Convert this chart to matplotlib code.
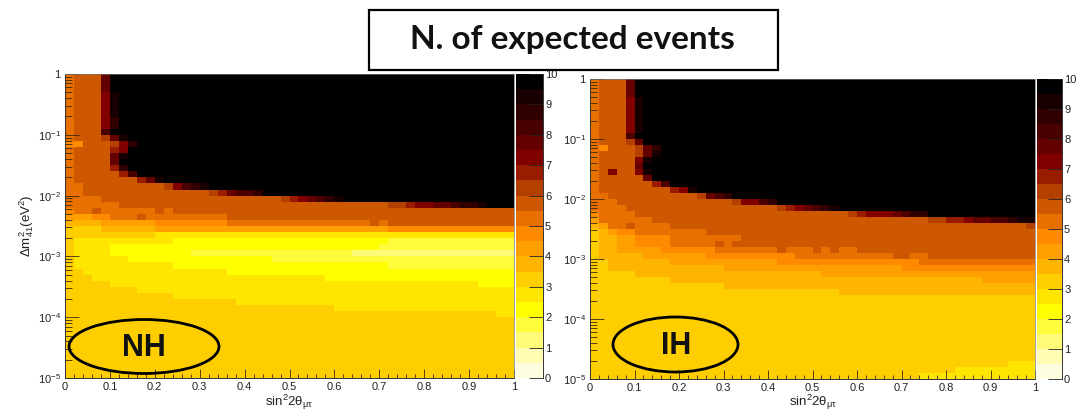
import numpy as np
import matplotlib
matplotlib.use("Agg")
import matplotlib.pyplot as plt
from matplotlib.colors import ListedColormap, BoundaryNorm
from matplotlib.patches import Ellipse, Rectangle
from matplotlib.ticker import FixedLocator, NullFormatter

plt.rcParams['font.family'] = ['Liberation Sans', 'DejaVu Sans']
plt.rcParams['mathtext.fontset'] = 'custom'
plt.rcParams['mathtext.rm'] = 'Liberation Sans'
plt.rcParams['mathtext.it'] = 'Liberation Sans:italic'
plt.rcParams['mathtext.default'] = 'regular'

W, H = 1091, 413

# palette of the color bar, one color per 0.5 events (bottom to top)
palette = ["#FFFDE0", "#FFFCB4", "#FFFB78", "#FFFC3C", "#FFFF00",
           "#FFE600", "#FFCE00", "#FFB400", "#FFA000", "#FF8A00",
           "#E87000", "#CE5800", "#B44000", "#9A1C00", "#800000",
           "#640000", "#480000", "#300000", "#180000", "#000000"]

# each row goes top to bottom, "col:level" = level starts at that column
nh_rows = [
    "0:10 1:11 4:15 5:19", "0:10 1:11 4:15 5:19", "0:10 1:11 4:15 5:19",
    "0:10 1:11 4:14 5:18 6:19", "0:10 1:11 4:14 5:18 6:19",
    "0:10 1:11 4:14 5:18 6:19", "0:10 1:11 4:14 5:18 6:19",
    "0:10 1:11 4:14 5:17 6:19", "0:10 1:11 4:14 5:17 6:19",
    "0:10 1:11 4:16 5:19",
    "0:10 1:11 4:12 5:15 6:18 7:19",
    "0:9 2:11 5:12 6:14 7:17 8:19",
    "0:10 1:11 5:13 6:14 7:19",
    "0:10 1:11 5:15 6:18 7:19",
    "0:10 1:11 5:15 6:19",
    "0:10 1:11 5:13 6:17 7:19",
    "0:10 1:11 5:11 6:13 7:16 8:19",
    "0:10 1:11 8:13 9:15 10:18 11:19",
    "0:10 2:11 11:12 12:14 13:16 14:17 15:18 16:19",
    "0:10 2:11 16:12 17:13 18:15 19:16 21:17 22:19",
    "0:10 4:11 24:12 25:13 26:14 27:15 28:16 29:17 30:18 31:19",
    "0:10 6:11 36:12 38:13 39:14 41:15 43:16 44:17 46:18 47:19",
    "0:9 1:10 3:11 4:10 10:11 11:10 12:11",
    "0:8 3:9 5:10 8:11 9:10 18:11",
    "0:7 4:8 10:9 18:10 34:11 35:10 36:11",
    "0:6 4:7 10:8 36:9",
    "0:6 10:5",
    "0:6 1:5 12:4 36:3",
    "0:6 1:5 5:4 35:3",
    "0:6 1:5 5:4 14:3 32:2",
    "0:6 1:5 7:4 23:3",
    "0:6 1:5 12:4 36:3",
    "0:6 2:5 18:4",
    "0:6 3:5 29:4",
    "0:6 5:5 46:4",
    "0:6 8:5",
    "0:6 12:5",
    "0:6 19:5",
    "0:6 30:5",
    "0:6 48:5",
    "0:6", "0:6", "0:6", "0:6", "0:6", "0:6", "0:6", "0:6", "0:6", "0:6",
]

ih_rows = [
    "0:10 1:11 4:15 5:19", "0:10 1:11 4:15 5:19", "0:10 1:11 4:15 5:19",
    "0:10 1:11 4:14 5:18 6:19", "0:10 1:11 4:14 5:18 6:19",
    "0:10 1:11 4:14 5:18 6:19", "0:10 1:11 4:14 5:18 6:19",
    "0:10 1:11 4:14 5:18 6:19", "0:10 1:11 4:14 5:18 6:19",
    "0:10 1:11 4:16 5:19",
    "0:10 1:11 4:12 5:15 6:19",
    "0:10 1:9 2:11 5:12 6:15 7:17 8:19",
    "0:10 1:11 5:12 6:15 7:18 8:19",
    "0:10 1:11 5:14 6:18 7:19",
    "0:10 1:11 5:15 6:19",
    "0:10 1:11 2:14 3:11 5:14 6:18 7:19",
    "0:10 1:11 5:11 6:15 7:19",
    "0:10 1:11 7:13 8:16 9:19",
    "0:10 1:11 9:13 10:14 11:18 12:19",
    "0:10 2:11 12:12 13:15 14:16 15:17 16:19",
    "0:10 3:11 16:12 17:14 19:16 20:17 21:19",
    "0:10 4:11 21:12 22:13 23:14 24:15 25:16 26:17 27:18 28:19",
    "0:9 1:10 5:11 29:12 30:13 31:14 34:15 35:16 36:17 38:19",
    "0:8 1:10 7:11 38:12 40:13 42:14 43:15 45:16 47:17 48:18",
    "0:7 1:8 2:10 4:11 5:10 9:11 49:12",
    "0:6 1:7 2:8 3:9 5:10 13:11",
    "0:6 1:7 3:8 5:9 9:10 17:11",
    "0:6 1:7 3:8 5:9 9:10 14:11 15:10 16:11",
    "0:6 1:7 3:8 8:9 14:10 21:11 22:10 25:11 26:10 27:11 28:10 30:11",
    "0:6 1:7 6:8 13:9 23:10 34:11 36:10 38:11",
    "0:6 2:7 9:8 21:9 37:10",
    "0:6 2:7 15:8 35:9",
    "0:6 5:7 26:8",
    "0:6 9:7 44:8",
    "0:6 15:7",
    "0:6 28:7",
    "0:6", "0:6", "0:6", "0:6", "0:6", "0:6", "0:6", "0:6", "0:6", "0:6", "0:6",
    "0:6 47:5",
    "0:6 41:5",
    "0:6 37:5",
]

x_ticks = [0, 0.1, 0.2, 0.3, 0.4, 0.5, 0.6, 0.7, 0.8, 0.9, 1]
x_labels = ["0", "0.1", "0.2", "0.3", "0.4", "0.5", "0.6", "0.7", "0.8", "0.9", "1"]
y_ticks = [1e-5, 1e-4, 1e-3, 1e-2, 1e-1, 1]
y_labels = ["10$^{-5}$", "10$^{-4}$", "10$^{-3}$", "10$^{-2}$", "10$^{-1}$", "1"]
z_ticks = list(range(11))

cmap = ListedColormap(palette)
norm = BoundaryNorm(np.arange(0, 10.5, 0.5), cmap.N)


def rows_to_grid(rows):
    grid = np.zeros((len(rows), 50))
    for r, row in enumerate(rows):
        for part in row.split():
            col, level = part.split(":")
            # middle of the 0.5 wide band
            grid[r, int(col):] = int(level) * 0.5 + 0.25
    return grid[::-1]


def px_axes(fig, left, top, right, bottom):
    return fig.add_axes([left / W, 1 - bottom / H, (right - left) / W, (bottom - top) / H])


def draw_panel(fig, rows, box, cbox):
    ax = px_axes(fig, *box)
    xe = np.linspace(0, 1, 51)
    ye = np.logspace(-5, 0, 51)
    mesh = ax.pcolormesh(xe, ye, rows_to_grid(rows), cmap=cmap, norm=norm)
    ax.set_yscale("log")
    ax.set_xlim(0, 1)
    ax.set_ylim(1e-5, 1)
    ax.set_xticks(x_ticks, x_labels)
    ax.xaxis.set_minor_locator(FixedLocator(np.arange(0, 1.001, 0.02)))
    ax.set_yticks(y_ticks, y_labels)
    minors = [m * 10.0 ** e for e in range(-5, 0) for m in range(2, 10)]
    ax.yaxis.set_minor_locator(FixedLocator(minors))
    ax.yaxis.set_minor_formatter(NullFormatter())
    ax.tick_params(axis="x", which="major", direction="in", length=6.5, width=0.6, labelsize=8, pad=3)
    ax.tick_params(axis="x", which="minor", direction="in", length=3, width=0.6)
    ax.tick_params(axis="y", which="major", direction="in", length=10, width=0.6, labelsize=8, pad=3)
    ax.tick_params(axis="y", which="minor", direction="in", length=5, width=0.6)
    ax.tick_params(color="#3a2a10", labelcolor="#222222", which="both")
    for s in ["top", "right"]:
        ax.spines[s].set_linewidth(0.5)
        ax.spines[s].set_color("#777777")
    for s in ["left", "bottom"]:
        ax.spines[s].set_linewidth(0.7)
        ax.spines[s].set_color("#333333")

    cax = px_axes(fig, *cbox)
    cb = fig.colorbar(mesh, cax=cax, ticks=z_ticks, spacing="proportional")
    cb.minorticks_off()
    cb.ax.set_yticklabels([str(z) for z in z_ticks])
    cb.outline.set_visible(False)
    cax.spines["right"].set_visible(True)
    cax.spines["right"].set_linewidth(0.7)
    cax.spines["right"].set_color("#333333")
    cax.tick_params(direction="in", length=10, width=0.6, labelsize=8, pad=1.5,
                    color="#222222", labelcolor="#222222")
    return ax


fig = plt.figure(figsize=(W / 100, H / 100), dpi=100)

draw_panel(fig, nh_rows, (65, 74, 514, 378), (516, 74, 543, 378))
draw_panel(fig, ih_rows, (590, 79, 1035, 379), (1037, 79, 1062, 379))

# overlay in picture pixels for the box, the ellipses and the axis titles
over = fig.add_axes([0, 0, 1, 1], facecolor="none")
over.set_xlim(0, W)
over.set_ylim(H, 0)
over.axis("off")

over.add_patch(Rectangle((368.5, 9.5), 409, 60, fc="white", ec="black", lw=1.6))
over.text(572.5, 40, "N. of expected events", family="Lato", weight="bold", fontsize=24,
          ha="center", va="center", color="#111111")

over.add_patch(Ellipse((144, 346.5), 150, 54, fc="none", ec="black", lw=2))
over.text(143.5, 348.5, "NH", weight="bold", fontsize=22, ha="center", va="center", color="#111111")
over.add_patch(Ellipse((675.5, 344.5), 125, 55, fc="none", ec="black", lw=2))
over.text(676, 346.5, "IH", weight="bold", fontsize=22, ha="center", va="center", color="#111111")

xlabel = r"sin$^{2}$2$\theta_{\mu\tau}$"
over.text(289, 402, xlabel, fontsize=9.5, ha="center", va="center", color="#222222")
over.text(813, 402, xlabel, fontsize=9.5, ha="center", va="center", color="#222222")
over.text(27, 226, r"$\Delta$m$^{2}_{41}$(eV$^{2}$)", fontsize=9.5, rotation=90,
          ha="center", va="center", color="#222222")

fig.savefig("out.png", dpi=100)
